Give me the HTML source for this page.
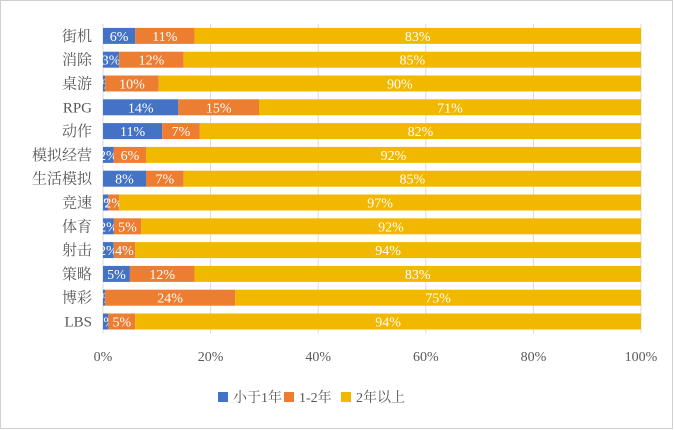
<!DOCTYPE html>
<html><head><meta charset="utf-8"><style>
body{margin:0;background:#fff;}
svg{display:block;font-family:"Liberation Serif","Noto Serif CJK SC",serif;}
</style></head><body>
<svg id="c" width="674" height="430">
<rect x="0.5" y="0.5" width="672" height="428" fill="#fff" stroke="#d0d0d0"/>
<g id="grid"></g><g id="bars"></g><g id="ylab"></g><g id="xlab"></g>
<g>
<rect x="218" y="392" width="10" height="10" fill="#4472c4"/>
<text x="233" y="402" font-size="14" fill="#595959">小于1年</text>
<rect x="284" y="392" width="10" height="10" fill="#ed7d31"/>
<text x="299" y="402" font-size="14" fill="#595959">1-2年</text>
<rect x="341" y="392" width="10" height="10" fill="#f2b800"/>
<text x="356" y="402" font-size="14" fill="#595959">2年以上</text>
</g>
</svg>
<script>
const categories=["街机","消除","桌游","RPG","动作","模拟经营","生活模拟","竞速","体育","射击","策略","博彩","LBS"];
const lessThan1=[6,3,0.4,14,11,2,8,1,2,2,5,0.4,1];
const oneToTwo=[11,12,10,15,7,6,7,2,5,4,12,24,5];
const over2=[83,85,90,71,82,92,85,97,92,94,83,75,94];
const xTicks=[0,20,40,60,80,100];
const NS="http://www.w3.org/2000/svg";
const X0=103,X1=641,Y0=24,ROW=23.8,BH=16;
const xs=v=>X0+(X1-X0)*v/100;
const yc=i=>Y0+ROW*(i+0.5);
function mk(t,a,p){const e=document.createElementNS(NS,t);for(const k in a)e.setAttribute(k,a[k]);p.appendChild(e);return e;}
const grid=document.getElementById('grid'),bars=document.getElementById('bars'),yl=document.getElementById('ylab'),xl=document.getElementById('xlab');
xTicks.forEach(t=>{
 const l=mk('line',{x1:xs(t),x2:xs(t),y1:Y0,y2:Y0+ROW*categories.length,stroke:'#d9d9d9'},grid);
 
 
 const tx=mk('text',{x:xs(t),y:361,'font-size':14,fill:'#595959','text-anchor':'middle'},xl);
 tx.textContent=t+'%';
 
 
});
const series=[[lessThan1,'#4472c4','lt1'],[oneToTwo,'#ed7d31','1to2'],[over2,'#f2b800','gt2']];
categories.forEach((c,i)=>{
 const tot=lessThan1[i]+oneToTwo[i]+over2[i];
 let acc=0;
 const y=yc(i);
 series.forEach(([arr,col,nm])=>{
  const v=arr[i]/tot*100;
  const r=mk('rect',{x:xs(acc),y:y-BH/2,width:xs(acc+v)-xs(acc),height:BH,fill:col},bars);
  
  
  const t=mk('text',{x:(xs(acc)+xs(acc+v))/2,y:y+5,'font-size':14,fill:'#fff','text-anchor':'middle'},bars);
  t.textContent=Math.round(arr[i])+'%';
  
  
  acc+=v;
 });
 const lt=mk('text',{x:92,y:y+5,'font-size':15,fill:'#595959','text-anchor':'end'},yl);
 lt.textContent=c;
 
 
});
</script>
</body></html>
